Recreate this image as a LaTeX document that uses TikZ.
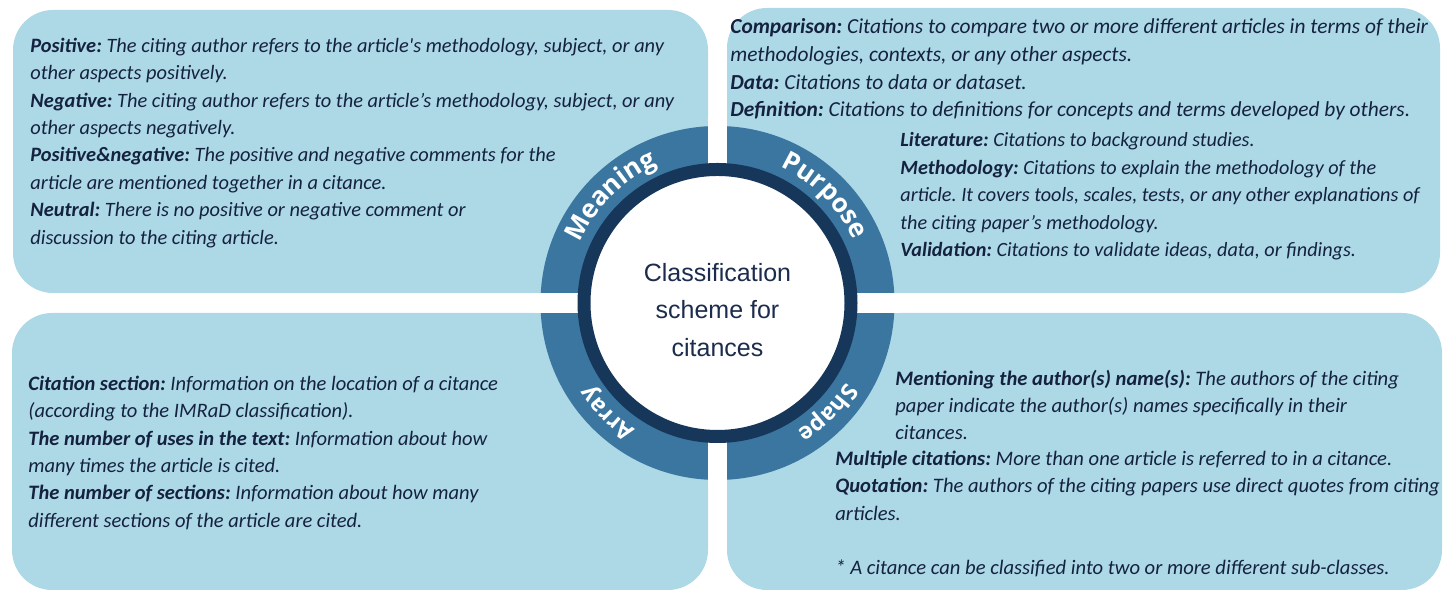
\documentclass[tikz,border=0pt]{standalone}
\usepackage{fontspec}
\setmainfont{Carlito}
\newfontfamily\ringfont{Open Sans}
\newfontfamily\hubfont{Liberation Sans}
\usetikzlibrary{decorations.text}
\frenchspacing

\definecolor{boxblue}{HTML}{ADD8E6}
\definecolor{ringblue}{HTML}{3A76A0}
\definecolor{ringnavy}{HTML}{17375A}
\definecolor{inkblue}{HTML}{14223F}
\definecolor{titleblue}{HTML}{1C2C4C}

\newcommand{\term}[1]{\textbf{#1}}

\tikzset{
  quad/.style={fill=boxblue, rounded corners=20pt},
  desc/.style={anchor=north west, inner sep=0pt, align=left, text=inkblue,
    font=\fontsize{#1}{13.7}\selectfont\itshape},
  desc/.default=10.2,
  hub/.style={circle, fill=white, draw=ringnavy, line width=6.5pt,
    minimum size=133.5pt, inner sep=0pt},
  hubtext/.style={align=center, text=titleblue, inner sep=0pt,
    font=\hubfont\fontsize{12.5}{18.75}\selectfont},
  ringlabel/.style 2 args={decorate, decoration={text along path,
    text align=center, text color=white,
    text={|\ringfont\bfseries\fontsize{#2}{#2}\selectfont|#1}}}
}

\begin{document}
\begin{tikzpicture}[x=0.5pt,y=0.5pt]
  \useasboundingbox (0,0) rectangle (1448,592);

  % the four panels
  \fill[quad] (13,582) rectangle (708,299);
  \fill[quad] (727,584) rectangle (1440,299);
  \fill[quad] (12,279) rectangle (708,2);
  \fill[quad] (727,279) rectangle (1442,2);

  % ring and hub
  \coordinate (c) at (717.5,289);
  \fill[ringblue] (c) circle[radius=177];
  \fill[white] (708,105) rectangle (727,475);
  \fill[white] (535,279) rectangle (900,299);
  \node[hub] (hub) at (c) {};
  \node[hubtext] (title) at ([yshift=-3.5pt]c) {Classification\\scheme for\\citances};

  \path[ringlabel={Meaning}{13}] (c) ++(175:150) arc[start angle=175, end angle=95, radius=150];
  \path[ringlabel={Purpose}{13}] (c) ++(85:150) arc[start angle=85, end angle=5, radius=150];
  \path[ringlabel={Shape}{11.5}] (c) ++(-5:151) arc[start angle=-5, end angle=-85, radius=151];
  \path[ringlabel={Array}{11.5}] (c) ++(265:151) arc[start angle=265, end angle=185, radius=151];

  % panel texts
  \node[desc] (meaning) at (30,554.5) {%
    \term{Positive:} The citing author refers to the article\textquotesingle s methodology, subject, or any\\
    other aspects positively.\\
    \term{Negative:} The citing author refers to the article's methodology, subject, or any\\
    other aspects negatively.\\
    \term{Positive\&negative:} The positive and negative comments for the\\
    article are mentioned together in a citance.\\
    \term{Neutral:} There is no positive or negative comment or\\
    discussion to the citing article.};

  \node[desc, font=\fontsize{10.7}{13.8}\selectfont\itshape] (purpose) at (730,573.5) {%
    \term{Comparison:} Citations to compare two or more different articles in terms of their\\
    methodologies, contexts, or any other aspects.\\
    \term{Data:} Citations to data or dataset.\\
    \term{Definition:} Citations to definitions for concepts and terms developed by others.};
  \node[desc, font=\fontsize{10.1}{13.8}\selectfont\itshape] (purposemore) at (900,460) {%
    \term{Literature:} Citations to background studies.\\
    \term{Methodology:} Citations to explain the methodology of the\\
    article. It covers tools, scales, tests, or any other explanations of\\
    the citing paper's methodology.\\
    \term{Validation:} Citations to validate ideas, data, or findings.};

  \node[desc=10.25] (array) at (28,216.5) {%
    \term{Citation section:} Information on the location of a citance\\
    (according to the IMRaD classification).\\
    \term{The number of uses in the text:} Information about how\\
    many times the article is cited.\\
    \term{The number of sections:} Information about how many\\
    different sections of the article are cited.};

  \node[desc=10.3] (shape) at (895,222.5) {%
    \term{Mentioning the author(s) name(s):} The authors of the citing\\
    paper indicate the author(s) names specifically in their\\
    citances.};
  \node[desc=10.3] (shapemore) at (835,141.5) {%
    \term{Multiple citations:} More than one article is referred to in a citance.\\
    \term{Quotation:} The authors of the citing papers use direct quotes from citing\\
    articles.\\[13.7pt]
    * A citance can be classified into two or more different sub-classes.};
\end{tikzpicture}
\end{document}
